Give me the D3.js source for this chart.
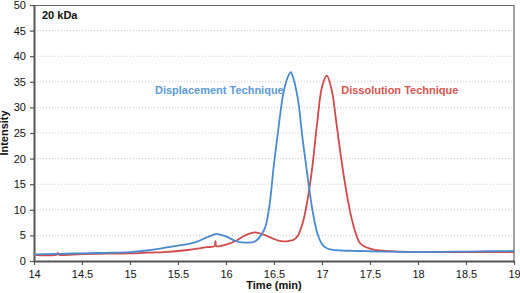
<!DOCTYPE html>
<html>
<head>
<meta charset="utf-8">
<script src="https://cdn.jsdelivr.net/npm/d3@7"></script>
<style>
  body { margin: 0; background: #fff; }
  svg text { font-family: "Liberation Sans", Arial, sans-serif; }
</style>
</head>
<body>
<div id="chart"></div>
<script>
// retention time (min)
const times = [14, 14.24, 14.25, 14.26, 14.5, 14.75, 15, 15.2, 15.4, 15.5, 15.6, 15.7, 15.8, 15.88, 15.89, 15.9,
  16.0, 16.1, 16.2, 16.3, 16.4, 16.45, 16.5, 16.55, 16.6, 16.65, 16.675, 16.7, 16.75, 16.8, 16.85, 16.9, 16.95,
  17.0, 17.05, 17.1, 17.15, 17.2, 17.25, 17.3, 17.35, 17.4, 17.5, 17.6, 17.8, 18, 18.25, 18.5, 18.75, 19];

const displacement = [1.3, 1.4, 1.4, 1.4, 1.5, 1.6, 1.75, 2.1, 2.7, 3.0, 3.3, 3.8, 4.6, 5.2, 5.25, 5.3,
  4.8, 3.9, 3.6, 3.8, 6.2, 10.5, 19, 26.5, 33, 36.2, 36.9, 35.8, 31.5, 23.5, 16.5, 10, 5.5,
  3.3, 2.5, 2.2, 2.1, 2.05, 2.0, 2.0, 1.95, 1.95, 1.9, 1.85, 1.8, 1.75, 1.8, 1.85, 1.9, 1.95];

const dissolution = [1.2, 1.25, 1.6, 1.25, 1.35, 1.45, 1.5, 1.65, 1.8, 1.95, 2.15, 2.4, 2.7, 2.9, 3.9, 2.9,
  3.2, 3.9, 5.0, 5.6, 5.1, 4.7, 4.3, 4.0, 3.85, 3.9, 4.0, 4.1, 5.0, 7.5, 12, 18.5, 27,
  34, 36.2, 33.5, 27, 20, 14, 9, 5.5, 3.4, 2.4, 2.05, 1.85, 1.75, 1.75, 1.75, 1.75, 1.75];

const xTicks = [14, 14.5, 15, 15.5, 16, 16.5, 17, 17.5, 18, 18.5, 19];
const yTicks = [0, 5, 10, 15, 20, 25, 30, 35, 40, 45, 50];

const W = 520, H = 293;
const margin = { top: 5, right: 6, bottom: 32, left: 34 };
const innerWidth = W - margin.left - margin.right;
const innerHeight = H - margin.top - margin.bottom;

const svg = d3.select("#chart").append("svg")
    .attr("width", W)
    .attr("height", H);

const g = svg.append("g")
    .attr("transform", `translate(${margin.left},${margin.top})`);

const xScale = d3.scaleLinear().domain([14, 19]).range([0, innerWidth]);
const yScale = d3.scaleLinear().domain([0, 50]).range([innerHeight, 0]);

// dotted gridlines
g.selectAll(".grid")
  .data(yTicks.filter(d => d > 0 && d < 50))
  .join("line")
    .attr("x1", 0)
    .attr("x2", innerWidth)
    .attr("y1", d => yScale(d))
    .attr("y2", d => yScale(d))
    .attr("stroke", "#c8c8c8")
    .attr("stroke-width", 1)
    .attr("stroke-dasharray", "1,2");

// top / right frame
g.append("path")
  .attr("d", `M0,0.5H${innerWidth}V${innerHeight}`)
  .attr("fill", "none")
  .attr("stroke", "#666")
  .attr("stroke-width", 1.2);

const xAxis = g.append("g")
  .attr("transform", `translate(0,${innerHeight})`)
  .call(d3.axisBottom(xScale).tickValues(xTicks).tickSize(4).tickSizeOuter(0).tickFormat(d3.format("")));

const yAxis = g.append("g")
  .call(d3.axisLeft(yScale).tickValues(yTicks).tickSize(4).tickSizeOuter(0));

[xAxis, yAxis].forEach(ax => {
  ax.select(".domain").attr("stroke", "#555").attr("stroke-width", 2);
  ax.selectAll(".tick line").attr("stroke", "#555").attr("stroke-width", 1.2);
  ax.selectAll("text").attr("font-size", 11).attr("fill", "#111")
    .attr("font-family", "\"Liberation Sans\", Arial, sans-serif");
});
xAxis.selectAll("text").attr("dy", "0.95em");
yAxis.selectAll("text").attr("dx", "-0.1em");

const line = d3.line()
  .x((d, i) => xScale(times[i]))
  .y(d => yScale(d))
  .curve(d3.curveCatmullRom.alpha(0.5));

g.append("path")
  .datum(dissolution)
  .attr("d", line)
  .attr("fill", "none")
  .attr("stroke", "#d24a47")
  .attr("stroke-width", 1.8);

g.append("path")
  .datum(displacement)
  .attr("d", line)
  .attr("fill", "none")
  .attr("stroke", "#4a8ad0")
  .attr("stroke-width", 1.8);

g.append("text")
  .attr("x", 8)
  .attr("y", 14)
  .attr("font-size", 11)
  .attr("font-weight", "bold")
  .attr("fill", "#111")
  .text("20 kDa");

g.append("text")
  .attr("x", xScale(15.26))
  .attr("y", yScale(32.6))
  .attr("font-size", 11)
  .attr("font-weight", "bold")
  .attr("fill", "#5b9ad6")
  .text("Displacement Technique");

g.append("text")
  .attr("x", xScale(17.2))
  .attr("y", yScale(32.6))
  .attr("font-size", 11)
  .attr("font-weight", "bold")
  .attr("fill", "#d9544f")
  .text("Dissolution Technique");

g.append("text")
  .attr("x", innerWidth / 2)
  .attr("y", innerHeight + 28)
  .attr("text-anchor", "middle")
  .attr("font-size", 11)
  .attr("font-weight", "bold")
  .attr("fill", "#111")
  .text("Time (min)");

g.append("text")
  .attr("transform", "rotate(-90)")
  .attr("x", -innerHeight / 2)
  .attr("y", -26)
  .attr("text-anchor", "middle")
  .attr("font-size", 11)
  .attr("font-weight", "bold")
  .attr("fill", "#111")
  .text("Intensity");
</script>
</body>
</html>
